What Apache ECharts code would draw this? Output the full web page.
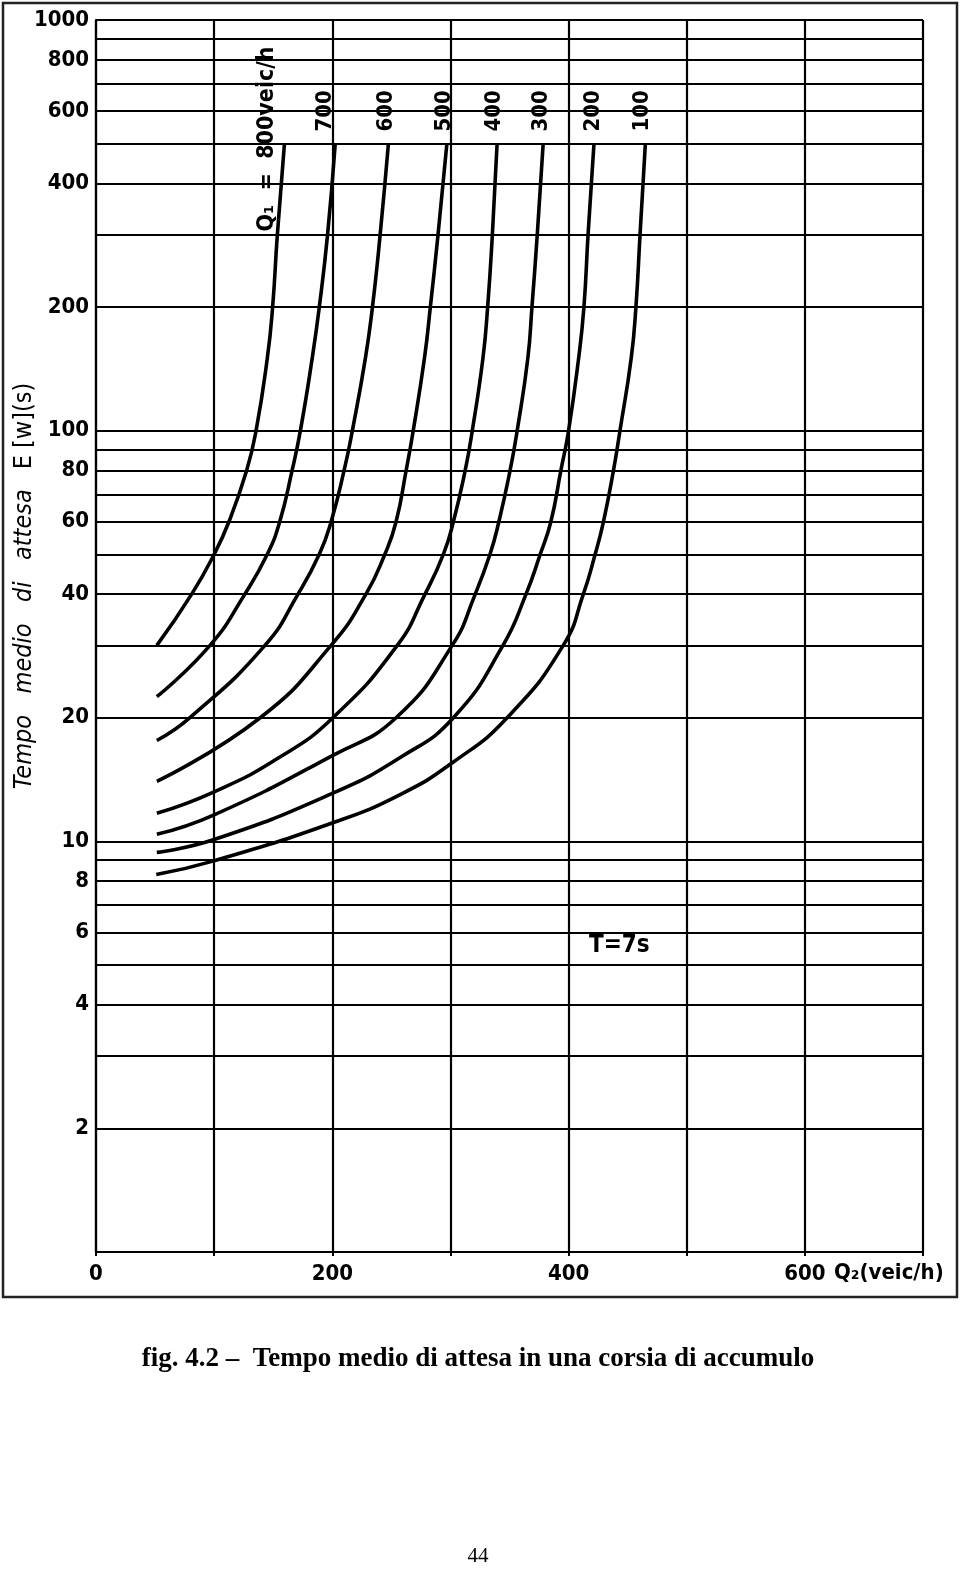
<!DOCTYPE html>
<html><head><meta charset="utf-8">
<script src="https://cdn.jsdelivr.net/npm/echarts@6/dist/echarts.min.js"></script>
<style>html,body{margin:0;padding:0;background:#fff}#c{width:960px;height:1570px}</style>
</head><body><div id="c"></div>
<script>
// ---------------- DATA ----------------
const xTickLabels = [0, 200, 400, 600];
const yGridValues = [2,3,4,5,6,7,8,9,10,20,30,40,50,60,70,80,90,100,200,300,400,500,600,700,800,900,1000];
const yTickLabels = [2,4,6,8,10,20,40,60,80,100,200,400,600,800,1000];
const curveNames = ['Q\u2081  =  800veic/h','700','600','500','400','300','200','100'];
const xAxisTitle = 'Q\u2082(veic/h)';
const yAxisTitleItalic = 'Tempo   medio   di   attesa';
const yAxisTitleUpright = 'E [w](s)';
const noteText = 'T=7s';
const captionText = 'fig. 4.2 \u2013  Tempo medio di attesa in una corsia di accumulo';
const pageNumber = '44';

// [Q2 (veic/h), E[w] (s)]
const curve800 = [[51.5,30],[81,40],[100,50],[112.5,60],[127.5,80],[135.5,100],[145,150],[149.5,200],[153.5,300],[159.5,500]];
const curve700 = [[51.5,22.5],[96.5,30],[126,40],[145,50],[155.5,60],[166,80],[173,100],[183,150],[189,200],[196,300],[202.5,500]];
const curve600 = [[51.5,17.6],[79.5,20],[143,30],[171,40],[189,50],[199,60],[210,80],[217,100],[228,150],[234,200],[240.5,300],[247.5,500]];
const curve500 = [[51.5,14],[139,20],[199,30],[228.5,40],[244.5,50],[254,60],[262.5,80],[268.5,100],[278,150],[283,200],[289.5,300],[297,500]];
const curve400 = [[51.5,11.7],[100,13.2],[155,16],[200.5,20],[255,30],[278.5,40],[294,50],[302.5,60],[312.5,80],[318.5,100],[327.5,150],[331.5,200],[335.5,300],[339.5,500]];
const curve300 = [[51.5,10.4],[100,11.6],[200.5,16.2],[254,20],[301.5,30],[321,40],[333.5,50],[341,60],[350.5,80],[356.5,100],[365.5,150],[369,200],[373.5,300],[378.5,500]];
const curve200 = [[51.5,9.4],[100,10.1],[200.5,13.1],[257.5,16],[302.5,20],[344.5,30],[364,40],[376,50],[385,60],[393.5,80],[400,100],[408.5,150],[413,200],[416.5,300],[421.5,500]];
const curve100 = [[51,8.3],[99,8.95],[200.5,11.1],[257.5,13],[302.5,15.6],[348,20],[395.5,30],[412.5,40],[422.5,50],[429.5,60],[438,80],[443.5,100],[453,150],[457,200],[460.5,300],[465,500]];
const curves = [curve800, curve700, curve600, curve500, curve400, curve300, curve200, curve100];

// ---------------- LAYOUT / STYLE ----------------
const FONT = '"DejaVu Sans Condensed", "Liberation Sans Narrow", sans-serif';
const LBL = 22;
const labelShift = [[-17, 88], [-10, -12], [-2, -12], [-3, -12], [-3, -12], [-2, -12], [-1, -12], [-3, -12]];

const chart = echarts.init(document.getElementById('c'), null, {renderer: 'canvas'});

const series = curves.map((d, i) => {
  const s = {
    type: 'line', name: curveNames[i], data: d,
    symbol: 'none', showSymbol: false, smooth: 0.5, silent: true, z: 5,
    lineStyle: {color: '#000', width: 3.6}
  };
  if (i === 0) {
    s.markLine = {
      silent: true, symbol: ['none', 'none'], animation: false, z: 2,
      lineStyle: {color: '#000', width: 2.2, type: 'solid'},
      label: {
        show: true, position: 'start', distance: 7,
        formatter: p => yTickLabels.includes(p.value) ? String(p.value) : '',
        color: '#000', fontFamily: FONT, fontSize: LBL, fontWeight: 'bold'
      },
      emphasis: {disabled: true},
      data: yGridValues.map(v => ({yAxis: v}))
    };
  }
  return s;
});

chart.setOption({
  animation: false,
  backgroundColor: '#fff',
  grid: {left: 96, right: 37, top: 20, bottom: 318},
  xAxis: {
    type: 'value', min: 0, max: 700, interval: 100,
    axisLine: {show: true, lineStyle: {color: '#000', width: 2.2}},
    axisTick: {show: true, length: 4, lineStyle: {color: '#000', width: 2}},
    axisLabel: {
      formatter: v => xTickLabels.includes(v) ? String(v) : '',
      margin: 11, color: '#000', fontFamily: FONT, fontSize: LBL, fontWeight: 'bold'
    },
    splitLine: {show: true, lineStyle: {color: '#000', width: 2.2}}
  },
  yAxis: {
    type: 'log', logBase: 10, min: 1, max: 1000,
    axisLine: {show: true, lineStyle: {color: '#000', width: 2.2}},
    axisTick: {show: false}, axisLabel: {show: false}, splitLine: {show: false}
  },
  series: series
});

const BOLD = 'bold ' + LBL + 'px ' + FONT;
const g = [];
g.push({type: 'rect', shape: {x: 3, y: 3, width: 954, height: 1294}, style: {fill: 'none', stroke: '#222', lineWidth: 2.5}, silent: true});
curves.forEach((d, i) => {
  const last = d[d.length - 1];
  const p = chart.convertToPixel({xAxisIndex: 0, yAxisIndex: 0}, last);
  g.push({
    type: 'text', x: p[0] + labelShift[i][0], y: p[1] + labelShift[i][1], rotation: Math.PI / 2, z: 10,
    style: {text: curveNames[i], fill: '#000', font: (i === 0 ? 'bold 23px ' + FONT : BOLD), align: 'left', verticalAlign: 'middle', textAlign: 'left', textVerticalAlign: 'middle'}
  });
});
g.push({
  type: 'text', x: 24, y: 586, rotation: Math.PI / 2,
  style: {
    text: '{it|' + yAxisTitleItalic + '}      {n|' + yAxisTitleUpright + '}',
    rich: {
      it: {fontStyle: 'italic', fontFamily: FONT, fontSize: 25, fill: '#000', color: '#000'},
      n: {fontFamily: FONT, fontSize: 25, fill: '#000', color: '#000'}
    },
    fill: '#000', align: 'center', verticalAlign: 'middle', textAlign: 'center', textVerticalAlign: 'middle'
  }
});
g.push({type: 'text', x: 834, y: 1273, style: {text: xAxisTitle, fill: '#000', font: BOLD, align: 'left', verticalAlign: 'middle', textAlign: 'left', textVerticalAlign: 'middle'}});
g.push({type: 'text', x: 589, y: 946, style: {text: noteText, fill: '#000', font: 'bold 24px ' + FONT, align: 'left', verticalAlign: 'middle', textAlign: 'left', textVerticalAlign: 'middle'}});
g.push({type: 'text', x: 478, y: 1359, style: {text: captionText, fill: '#000', font: 'bold 27px "Liberation Serif", "Times New Roman", serif', align: 'center', verticalAlign: 'middle', textAlign: 'center', textVerticalAlign: 'middle'}});
g.push({type: 'text', x: 478, y: 1556, style: {text: pageNumber, fill: '#000', font: '21px "Liberation Serif", "Times New Roman", serif', align: 'center', verticalAlign: 'middle', textAlign: 'center', textVerticalAlign: 'middle'}});
chart.setOption({graphic: {elements: g}});
</script>
</body></html>
